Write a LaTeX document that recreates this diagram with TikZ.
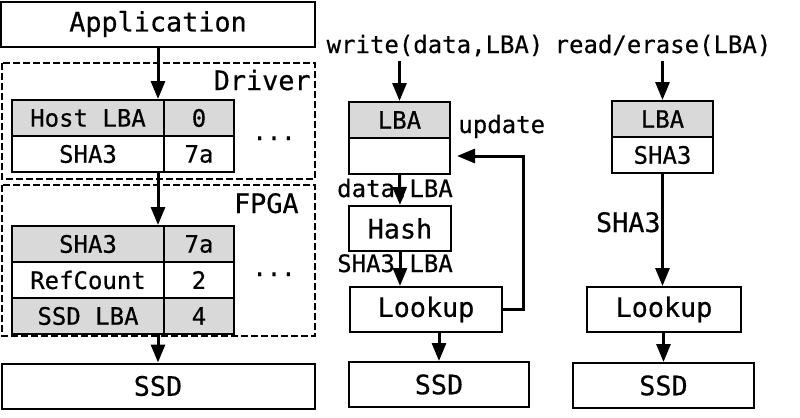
\documentclass[tikz,border=0pt]{standalone}
\usepackage{fontspec}
\setmonofont{DejaVu Sans Mono}[FakeBold=0.5]
\usepackage{tikz}
\usetikzlibrary{arrows.meta}

\begin{document}
\begin{tikzpicture}[line join=miter,>={Triangle[length=9pt,width=7pt]},x=0.5pt,y=-0.5pt,
  box/.style={draw,line width=1.pt,minimum height=22.5pt,inner sep=0pt,font=\ttfamily\fontsize{13.4}{16}\selectfont},
  cell/.style={draw,line width=1.pt,minimum height=18pt,inner sep=0pt,font=\ttfamily\fontsize{12}{14}\selectfont},
  grey/.style={fill=black!15},
  zone/.style={draw,line width=0.75pt,dash pattern=on 3.5pt off 1.5pt},
  flow/.style={->,line width=1.5pt},
  small/.style={inner sep=0pt,font=\ttfamily\fontsize{12}{14}\selectfont},
  large/.style={inner sep=0pt,font=\ttfamily\fontsize{13.4}{16}\selectfont}]
\useasboundingbox (0,0) rectangle (800,418);

% left: host side
\node[box,minimum width=157pt] (app) at (158,24) {Application};
\draw[zone] (2,63) rectangle (315,179);
\draw[zone] (2,185) rectangle (315,336);
\node[large,anchor=base east] (drv) at (311,90) {Driver};
\node[large,anchor=base east] (fpga) at (299,213) {FPGA};

\node[cell,grey,minimum width=76pt] (hlba) at (88,118) {Host LBA};
\node[cell,grey,minimum width=35pt] (hval) at (199,118) {0};
\node[cell,minimum width=76pt] (hsha) at (88,154) {SHA3};
\node[cell,minimum width=35pt] (hsval) at (199,154) {7a};
\node[small,anchor=base] (hdots) at (274,140) {...};

\node[cell,grey,minimum width=76pt] (fsha) at (88,244) {SHA3};
\node[cell,grey,minimum width=35pt] (fsval) at (199,244) {7a};
\node[cell,minimum width=76pt] (fref) at (88,280) {RefCount};
\node[cell,minimum width=35pt] (frval) at (199,280) {2};
\node[cell,grey,minimum width=76pt] (fssd) at (88,316) {SSD LBA};
\node[cell,grey,minimum width=35pt] (fdval) at (199,316) {4};
\node[small,anchor=base] (fdots) at (274,276) {...};

\node[box,minimum width=156.5pt] (ssdA) at (158,386) {SSD};

\draw[flow] (app.south) -- (app.south |- hlba.north);
\draw[flow] (app.south |- hsha.south) -- (app.south |- fsha.north);
\draw[flow] (app.south |- fssd.south) -- (app.south |- ssdA.north);

% middle: write path
\node[small,anchor=base] (wr) at (435,53) {write(data,LBA)};
\node[cell,grey,minimum width=50.5pt] (mlba) at (399.5,120) {LBA};
\node[cell,minimum width=50.5pt] (mblank) at (399.5,156) {};
\node[small,anchor=base west] (upd) at (458,133) {update};
\node[small,anchor=base] (dl) at (395,197) {data,LBA};
\node[box,minimum width=51pt] (hash) at (400,228.5) {Hash};
\node[small,anchor=base] (sl) at (395,272) {SHA3,LBA};
\node[box,minimum width=76pt] (mlook) at (426,309.5) {Lookup};
\node[box,minimum width=90pt] (ssdB) at (439,384.5) {SSD};

\draw[flow,shorten <=2pt] (wr.south -| mlba.north) -- (mlba.north);
\draw[flow] (mblank.south) -- (hash.north);
\draw[flow] (hash.south) -- (hash.south |- mlook.north);
\draw[flow] (ssdB.north |- mlook.south) -- (ssdB.north);
\draw[flow,shorten >=3pt] (mlook.east) -- ++(20,0) |- (mblank.east);

% right: read/erase path
\node[small,anchor=base] (rd) at (663,53) {read/erase(LBA)};
\node[cell,grey,minimum width=50.5pt] (rlba) at (662.5,119) {LBA};
\node[cell,minimum width=50.5pt] (rsha) at (662.5,155) {SHA3};
\node[large,anchor=base east] (rl) at (661,232) {SHA3};
\node[box,minimum width=77pt] (rlook) at (664,309.5) {Lookup};
\node[box,minimum width=90.5pt] (ssdC) at (663.5,385.5) {SSD};

\draw[flow,shorten <=2pt] (rd.south -| rlba.north) -- (rlba.north);
\draw[flow] (rsha.south) -- (rsha.south |- rlook.north);
\draw[flow] (ssdC.north |- rlook.south) -- (ssdC.north);
\end{tikzpicture}
\end{document}
